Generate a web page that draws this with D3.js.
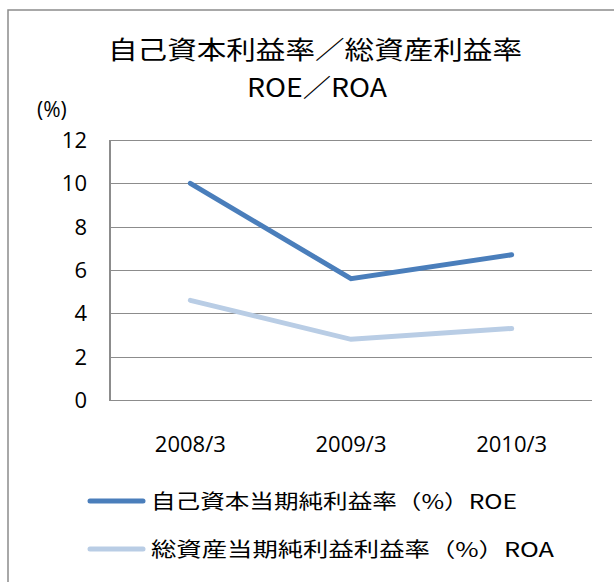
<!DOCTYPE html>
<html lang="ja">
<head>
<meta charset="utf-8">
<title>ROE / ROA</title>
<script src="https://d3js.org/d3.v7.min.js"></script>
<style>
  body { margin: 0; background: #fff; }
  svg { display: block; }
  .grid line { stroke: #8c8c8c; stroke-width: 1.5; shape-rendering: crispEdges; }
  .tick-label { font-family: "Open Sans", sans-serif; font-size: 22px; fill: #000; }
  .jp { font-family: "Noto Sans CJK JP", sans-serif; fill: #000; }
</style>
</head>
<body>
<div id="chart"></div>
<script>
// data
const categories = ["2008/3", "2009/3", "2010/3"];
const roe = [10.0, 5.6, 6.7];
const roa = [4.6, 2.8, 3.3];
const yTicks = [0, 2, 4, 6, 8, 10, 12];
const seriesNames = ["自己資本当期純利益率（%）ROE", "総資産当期純利益利益率（%）ROA"];
const seriesColors = ["#4a7ebb", "#b9cde5"];

const w = 614, h = 582;
const plot = { left: 110, right: 592, top: 140, bottom: 400 };

const svg = d3.select("#chart").append("svg")
  .attr("width", w)
  .attr("height", h);

// outer chart frame (runs off the right/bottom edge)
svg.append("rect")
  .attr("x", 8).attr("y", 10)
  .attr("width", 700).attr("height", 700)
  .attr("fill", "#fff")
  .attr("stroke", "#8c8c8c")
  .attr("stroke-width", 1.5);

const x = d3.scaleBand()
  .domain(categories)
  .range([plot.left, plot.right]);

const y = d3.scaleLinear()
  .domain([0, 12])
  .range([plot.bottom, plot.top]);

// gridlines
const grid = svg.append("g").attr("class", "grid");
grid.selectAll("line.h")
  .data(yTicks).enter()
  .append("line")
  .attr("x1", plot.left).attr("x2", plot.right)
  .attr("y1", d => Math.round(y(d)) + 0.5)
  .attr("y2", d => Math.round(y(d)) + 0.5);
grid.append("line")
  .attr("x1", plot.left).attr("x2", plot.left)
  .attr("y1", plot.top).attr("y2", plot.bottom + 0.5);

// y tick labels
svg.append("g").selectAll("text")
  .data(yTicks).enter()
  .append("text")
  .attr("class", "tick-label")
  .attr("x", 87)
  .attr("y", d => y(d) + 8)
  .attr("text-anchor", "end")
  .text(d => d);

// x tick labels
svg.append("g").selectAll("text")
  .data(categories).enter()
  .append("text")
  .attr("class", "tick-label")
  .attr("x", d => x(d) + x.bandwidth() / 2)
  .attr("y", 452)
  .attr("text-anchor", "middle")
  .text(d => d);

// unit label
svg.append("text")
  .attr("x", 37).attr("y", 117)
  .attr("font-family", "Open Sans, sans-serif")
  .attr("font-size", 21)
  .attr("fill", "#000")
  .text("(%)");

// title
svg.append("text")
  .attr("class", "jp")
  .attr("x", 108).attr("y", 59)
  .style("font-size", "25px")
  .attr("textLength", 414)
  .attr("lengthAdjust", "spacingAndGlyphs")
  .text("自己資本利益率／総資産利益率");
svg.append("text")
  .attr("class", "jp")
  .attr("x", 247).attr("y", 97)
  .style("font-size", "25px")
  .attr("textLength", 140)
  .attr("lengthAdjust", "spacingAndGlyphs")
  .text("ROE／ROA");

// lines
const line = d3.line()
  .x((d, i) => x(categories[i]) + x.bandwidth() / 2)
  .y(d => y(d));

[roa, roe].forEach((s, k) => {
  svg.append("path")
    .datum(s)
    .attr("d", line)
    .attr("fill", "none")
    .attr("stroke", seriesColors[1 - k])
    .attr("stroke-width", 5)
    .attr("stroke-linecap", "round")
    .attr("stroke-linejoin", "miter");
});

// legend
const legendY = [501, 549];
const legendLen = [366, 403];
const legend = svg.append("g").selectAll("g")
  .data(seriesNames).enter()
  .append("g")
  .attr("transform", (d, i) => "translate(0," + legendY[i] + ")");
legend.append("line")
  .attr("x1", 90).attr("x2", 143)
  .attr("stroke", (d, i) => seriesColors[i])
  .attr("stroke-width", 5)
  .attr("stroke-linecap", "round");
legend.append("text")
  .attr("class", "jp")
  .attr("x", 151).attr("y", 8)
  .style("font-size", "20px")
  .attr("textLength", (d, i) => legendLen[i])
  .attr("lengthAdjust", "spacingAndGlyphs")
  .text(d => d);
</script>
</body>
</html>
